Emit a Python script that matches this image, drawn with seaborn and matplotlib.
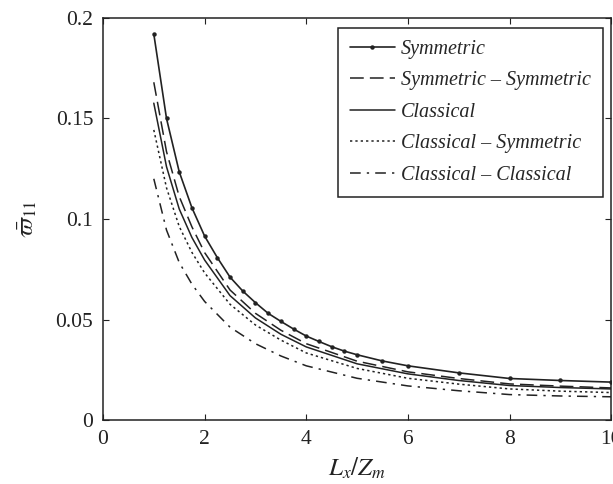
import matplotlib
matplotlib.use("Agg")
import matplotlib.pyplot as plt
import seaborn as sns

# Symmetric (with markers), read at marker positions
x_sym = [1, 1.25, 1.5, 1.75, 2, 2.25, 2.5, 2.75, 3, 3.25, 3.5, 3.75, 4,
         4.25, 4.5, 4.75, 5, 5.5, 6, 7, 8, 9, 10]
y_sym = [0.192, 0.150, 0.1235, 0.1056, 0.0915, 0.0808, 0.0711, 0.0642, 0.0584,
         0.0531, 0.0491, 0.0453, 0.0418, 0.0391, 0.0365, 0.0343, 0.0325,
         0.0294, 0.0270, 0.0235, 0.0207, 0.0197, 0.0189]

# other curves
x_other = [1, 1.25, 1.5, 1.75, 2, 2.5, 3, 3.5, 4, 5, 6, 7, 8, 9, 10]
y_sym_sym = [0.168, 0.1335, 0.1112, 0.0961, 0.0833, 0.0647, 0.0531, 0.0447,
             0.0380, 0.0293, 0.0240, 0.0207, 0.0180, 0.0169, 0.0160]
y_classical = [0.1576, 0.126, 0.105, 0.0908, 0.0796, 0.0619, 0.0508, 0.0427,
               0.0364, 0.0280, 0.0230, 0.0197, 0.0172, 0.0162, 0.0155]
y_cls_sym = [0.1443, 0.1155, 0.0963, 0.0834, 0.0732, 0.0576, 0.0473, 0.0398,
             0.0334, 0.0257, 0.0208, 0.0179, 0.0155, 0.0144, 0.0137]
y_cls_cls = [0.120, 0.0945, 0.0784, 0.0676, 0.0590, 0.0462, 0.0380, 0.0319,
             0.0270, 0.0208, 0.0170, 0.0146, 0.0127, 0.0120, 0.0116]

labels = ["Symmetric", "Symmetric \u2013 Symmetric", "Classical",
          "Classical \u2013 Symmetric", "Classical \u2013 Classical"]

sns.set_style("ticks")
plt.rcParams["font.family"] = ["Liberation Serif", "DejaVu Serif"]
plt.rcParams["mathtext.fontset"] = "stix"
plt.rcParams["xtick.direction"] = "in"
plt.rcParams["ytick.direction"] = "in"

fig = plt.figure(figsize=(6.13, 4.84), dpi=100)
ax = fig.add_axes([0.168, 0.132, 0.829, 0.831])

col = "#222222"
sns.lineplot(x=x_sym, y=y_sym, ax=ax, color=col, lw=1.2, marker="o",
             markersize=3.2, markeredgewidth=0, label=labels[0])
sns.lineplot(x=x_other, y=y_sym_sym, ax=ax, color=col, lw=1.1,
             dashes=(9, 4), label=labels[1])
sns.lineplot(x=x_other, y=y_classical, ax=ax, color=col, lw=1.1, label=labels[2])
sns.lineplot(x=x_other, y=y_cls_sym, ax=ax, color=col, lw=1.1,
             dashes=(1.5, 2), label=labels[3])
sns.lineplot(x=x_other, y=y_cls_cls, ax=ax, color=col, lw=1.1,
             dashes=(7, 4, 1.5, 4), label=labels[4])

ax.set_xlim(0, 10)
ax.set_ylim(0, 0.2)
ax.set_xticks([0, 2, 4, 6, 8, 10])
ax.set_yticks([0, 0.05, 0.1, 0.15, 0.2])
ax.set_yticklabels(["0", "0.05", "0.1", "0.15", "0.2"])
ax.tick_params(axis="both", which="both", top=True, right=True, labelsize=15.5,
               length=4, width=0.8, colors="#222222", pad=7)
for s in ax.spines.values():
    s.set_color("#222222")
    s.set_linewidth(1.1)

ax.set_xlabel(r"$L_x/Z_m$", fontsize=18, color="#222222", labelpad=5)
ax.set_ylabel(r"$\bar{\varpi}_{11}$", fontsize=18, color="#222222", labelpad=12)

leg = ax.legend(loc="upper right", bbox_to_anchor=(0.983, 0.976), frameon=True,
                fancybox=False, edgecolor="#222222", framealpha=1,
                prop={"family": ["Liberation Serif"], "style": "italic", "size": 14.5},
                handlelength=2.2, handletextpad=0.3, labelspacing=0.62,
                borderpad=0.6, borderaxespad=0)
leg.get_frame().set_linewidth(1.1)

fig.savefig("out.png", dpi=100)
